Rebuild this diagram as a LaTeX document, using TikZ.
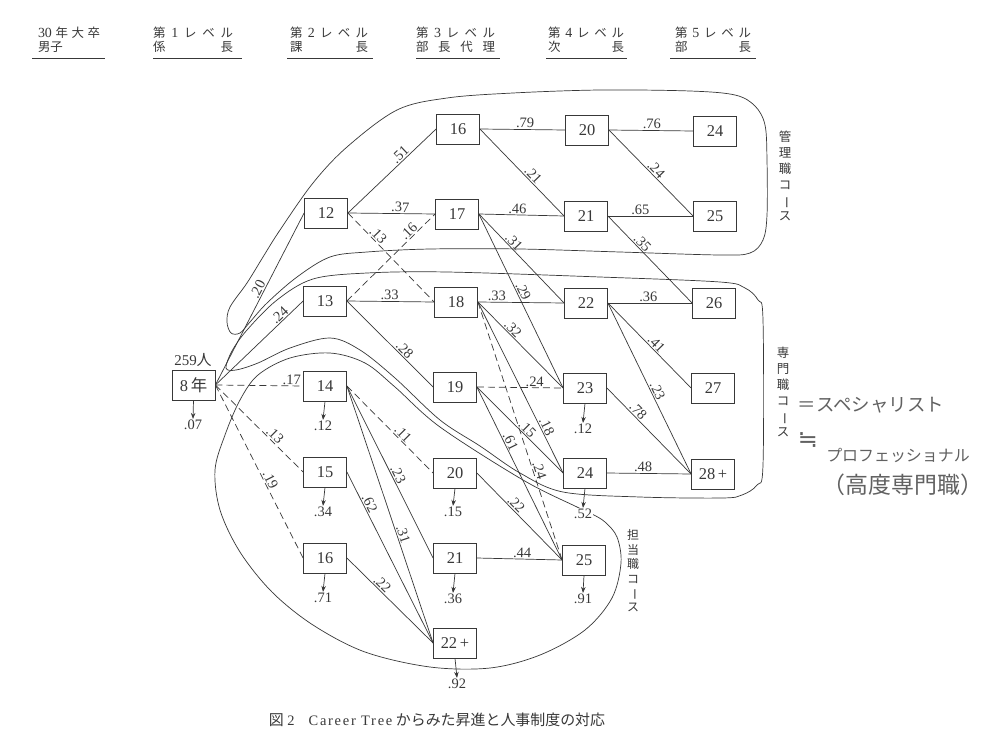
\documentclass[tikz,border=0pt]{standalone}
\usepackage{graphicx}
\usepackage{fontspec}
\setmainfont{Liberation Serif}
\newfontfamily\jp{Noto Sans CJK JP}
\newfontfamily\dv{DejaVu Sans}
\usetikzlibrary{arrows.meta}
\definecolor{ink}{gray}{0.22}
\definecolor{pencil}{gray}{0.38}
\newcommand{\hd}[1]{{\rmfamily\fontsize{14}{13}\selectfont #1}}
\begin{document}
\begin{tikzpicture}[x=1bp,y=-1bp,
  box/.style={draw=ink, line width=0.8bp, minimum width=43bp, minimum height=30bp, inner sep=0pt, text=ink, font=\fontsize{16.5}{16.5}\selectfont},
  lab/.style={sloped, above, inner sep=1bp, text=ink, font=\fontsize{14.5}{14.5}\selectfont},
  ln/.style={draw=ink, line width=0.7bp},
  dln/.style={ln, dash pattern=on 7bp off 4bp},
  drop/.style={draw=ink, line width=0.7bp, -{Stealth[length=6bp,width=4.5bp]}},
  outlab/.style={inner sep=1bp, text=ink, font=\fontsize{14.5}{14.5}\selectfont},
  course/.style={draw=ink, line width=0.7bp},
  hdr/.style={inner sep=0pt, text=ink, font=\jp\fontsize{12.5}{13}\selectfont},
  vlab/.style={inner sep=0pt, text=ink, align=center},
  hand/.style={inner sep=0pt, text=pencil},
]
\fill[white] (0,0) rectangle (996,736);
\useasboundingbox (0,0) rectangle (996,736);

% headers
\node[hdr] (h0a) at (69,33) {\makebox[62bp]{\hd{30}\hfill 年\hfill 大\hfill 卒}};
\node[hdr] (h0b) at (69,47) {\makebox[62bp]{男子\hfill}};
\node[hdr] (h1a) at (193,33) {\makebox[80bp]{第\hfill\hd{1}\hfill レ\hfill ベ\hfill ル}};
\node[hdr] (h1b) at (193,47) {\makebox[80bp]{係\hfill 長}};
\node[hdr] (h2a) at (329,33) {\makebox[78bp]{第\hfill\hd{2}\hfill レ\hfill ベ\hfill ル}};
\node[hdr] (h2b) at (329,47) {\makebox[78bp]{課\hfill 長}};
\node[hdr] (h3a) at (455.5,33) {\makebox[79bp]{第\hfill\hd{3}\hfill レ\hfill ベ\hfill ル}};
\node[hdr] (h3b) at (455.5,47) {\makebox[79bp]{部\hfill 長\hfill 代\hfill 理}};
\node[hdr] (h4a) at (586,33) {\makebox[76bp]{第\hfill\hd{4}\hfill レ\hfill ベ\hfill ル}};
\node[hdr] (h4b) at (586,47) {\makebox[76bp]{次\hfill 長}};
\node[hdr] (h5a) at (713,33) {\makebox[76bp]{第\hfill\hd{5}\hfill レ\hfill ベ\hfill ル}};
\node[hdr] (h5b) at (713,47) {\makebox[76bp]{部\hfill 長}};
\draw[ln] (32,58) -- (105,58);
\draw[ln] (153,58) -- (242,58);
\draw[ln] (287,58) -- (373,58);
\draw[ln] (416,58) -- (500,58);
\draw[ln] (546,58) -- (627,58);
\draw[ln] (670,58) -- (756,58);

% course boundaries
\draw[course] plot[smooth cycle, tension=0.55] coordinates {
 (513,93) (600,90) (690,91) (735,95) (755,106) (765,125) (767,160) (767,215) (763,240) (750,253)
 (720,255) (620,252) (520,249) (430,249) (367,252) (330,257) (297,277) (267,303) (250,322)
 (240,333) (231,333) (227,322) (230,307) (247,283) (263,257) (280,230) (313,183) (347,147)
 (397,110) (447,98)};
\draw[course] plot[smooth cycle, tension=0.55] coordinates {
 (226,368) (232,351) (247,330) (277,300) (313,279) (367,273) (447,272) (600,277) (720,282)
 (745,288) (758,300) (763,320) (763,465) (757,485) (742,495) (722,498) (640,497) (563,492)
 (520,473) (480,446) (440,420) (395,378) (360,350) (330,338) (290,348) (258,363) (236,370)};
\draw[course] plot[smooth cycle, tension=0.55] coordinates {
 (577,507) (523,480) (440,427) (395,387) (365,363) (330,353) (290,358) (258,375) (240,400)
 (225,435) (215,470) (220,510) (240,552) (272,592) (313,625) (365,652) (430,667) (490,668)
 (540,655) (585,630) (612,598) (621,563) (617,537) (605,522) (592,514)};

% nodes
\node[box] (s) at (193.5,385) {8\,{\jp 年}};
\node[outlab, font=\fontsize{15}{15}\selectfont] (pop) at (193,360) {259{\jp 人}};
\node[box] (a12) at (326,213) {12};
\node[box] (a13) at (325,301) {13};
\node[box] (a14) at (325,386) {14};
\node[box] (a15) at (325,472) {15};
\node[box] (a16) at (325,558) {16};
\node[box] (b16) at (458,129) {16};
\node[box] (b17) at (457,214) {17};
\node[box] (b18) at (456,302) {18};
\node[box] (b19) at (455,387) {19};
\node[box] (b20) at (455,473) {20};
\node[box] (b21) at (455,558) {21};
\node[box] (b22) at (455,643) {22\,+};
\node[box] (c20) at (587,130) {20};
\node[box] (c21) at (586,216) {21};
\node[box] (c22) at (586,303) {22};
\node[box] (c23) at (585,388) {23};
\node[box] (c24) at (585,473) {24};
\node[box] (c25) at (584,560) {25};
\node[box] (d24) at (715,131) {24};
\node[box] (d25) at (715,216) {25};
\node[box] (d26) at (714,303) {26};
\node[box] (d27) at (713,388) {27};
\node[box] (d28) at (713,474) {28\,+};

% edges
\draw[ln] (s.east) -- node[lab,pos=.54]{.20} (a12.west);
\draw[ln] (s.east) -- node[lab,pos=.78]{.24} (a13.west);
\draw[dln] (s.east) -- node[lab,pos=.87]{.17} (a14.west);
\draw[dln] (s.east) -- node[lab,pos=.63]{.13} (a15.west);
\draw[dln] (s.east) -- node[lab,pos=.565]{.19} (a16.west);
\draw[ln] (a12.east) -- node[lab,pos=.64]{.51} (b16.west);
\draw[ln] (a12.east) -- node[lab,pos=.6]{.37} (b17.west);
\draw[dln] (a12.east) -- node[lab,pos=.3]{.13} (b18.west);
\draw[dln] (a13.east) -- node[lab,pos=.75]{.16} (b17.west);
\draw[ln] (a13.east) -- node[lab,pos=.49]{.33} (b18.west);
\draw[ln] (a13.east) -- node[lab,pos=.62]{.28} (b19.west);
\draw[dln] (a14.east) -- node[lab,pos=.6]{.11} (b20.west);
\draw[ln] (a14.east) -- node[lab,pos=.53]{.23} (b21.west);
\draw[ln] (a14.east) -- node[lab,pos=.585]{.31} (b22.west);
\draw[ln] (a15.east) -- node[lab,pos=.2]{.62} (b22.west);
\draw[ln] (a16.east) -- node[lab,pos=.36]{.22} (b22.west);
\draw[ln] (b16.east) -- node[lab,pos=.53]{.79} (c20.west);
\draw[ln] (b16.east) -- node[lab,pos=.58]{.21} (c21.west);
\draw[ln] (b17.east) -- node[lab,pos=.45]{.46} (c21.west);
\draw[ln] (b17.east) -- node[lab,pos=.36]{.31} (c22.west);
\draw[ln] (b17.east) -- node[lab,pos=.46]{.29} (c23.west);
\draw[ln] (b18.east) -- node[lab,pos=.22]{.33} (c22.west);
\draw[ln] (b18.east) -- node[lab,pos=.36]{.32} (c23.west);
\draw[ln] (b18.east) -- node[lab,pos=.744]{.18} (c24.west);
\draw[dln] (b18.east) -- node[lab,pos=.66]{.24} (c25.west);
\draw[dln] (b19.east) -- node[lab,pos=.67]{.24} (c23.west);
\draw[ln] (b19.east) -- node[lab,pos=.535]{.15} (c24.west);
\draw[ln] (b19.east) -- node[lab,pos=.33]{.61} (c25.west);
\draw[ln] (b20.east) -- node[lab,pos=.41]{.22} (c25.west);
\draw[ln] (b21.east) -- node[lab,pos=.53]{.44} (c25.west);
\draw[ln] (c20.east) -- node[lab,pos=.51]{.76} (d24.west);
\draw[ln] (c20.east) -- node[lab,pos=.51]{.24} (d25.west);
\draw[ln] (c21.east) -- node[lab,pos=.38]{.65} (d25.west);
\draw[ln] (c21.east) -- node[lab,pos=.357]{.35} (d26.west);
\draw[ln] (c22.east) -- node[lab,pos=.48]{.36} (d26.west);
\draw[ln] (c22.east) -- node[lab,pos=.53]{.41} (d27.west);
\draw[ln] (c22.east) -- node[lab,pos=.53]{.23} (d28.west);
\draw[ln] (c23.east) -- node[lab,pos=.32]{.78} (d28.west);
\draw[ln] (c24.east) -- node[lab,pos=.43]{.48} (d28.west);

% drop-outs
\node[outlab] (so) at (193,425) {.07};
\node[outlab] (a14o) at (323,426) {.12};
\node[outlab] (a15o) at (323,512) {.34};
\node[outlab] (a16o) at (323,598) {.71};
\node[outlab] (b20o) at (453,512) {.15};
\node[outlab] (b21o) at (453,599) {.36};
\node[outlab] (b22o) at (457,684) {.92};
\node[outlab] (c23o) at (583,429) {.12};
\node[outlab, fill=white] (c24o) at (583,514) {.52};
\node[outlab] (c25o) at (583,599) {.91};
\draw[drop] (s.south) -- (so.north);
\draw[drop] (a14.south) -- (a14o.north);
\draw[drop] (a15.south) -- (a15o.north);
\draw[drop] (a16.south) -- (a16o.north);
\draw[drop] (b20.south) -- (b20o.north);
\draw[drop] (b21.south) -- (b21o.north);
\draw[drop] (b22.south) -- (b22o.north);
\draw[drop] (c23.south) -- (c23o.north);
\draw[drop] (c24.south) -- (c24o.north);
\draw[drop] (c25.south) -- (c25o.north);

% course labels
\node[vlab, font=\jp\fontsize{12.5}{16}\selectfont] (k1) at (785,176) {管\\理\\職\\コ\\\rotatebox[origin=c]{-90}{ー}\\ス};
\node[vlab, font=\jp\fontsize{12.5}{16}\selectfont] (k2) at (783,392) {専\\門\\職\\コ\\\rotatebox[origin=c]{-90}{ー}\\ス};
\node[vlab, font=\jp\fontsize{12}{14.5}\selectfont] (k3) at (633,571) {担\\当\\職\\コ\\\rotatebox[origin=c]{-90}{ー}\\ス};

% handwritten notes
\node[hand, font=\jp\fontsize{18.5}{20}\selectfont] (hw1) at (871,405) {＝スペシャリスト};
\node[hand, font=\dv\fontsize{24}{24}\selectfont] (hw2) at (808,440) {≒};
\node[hand, font=\jp\fontsize{16}{16}\selectfont] (hw3) at (898,455) {プロフェッショナル};
\node[hand, font=\jp\fontsize{23}{23}\selectfont] (hw4) at (903,485) {（高度専門職）};

% caption
\node[inner sep=0pt, text=ink, font=\fontsize{14.5}{14.5}\selectfont] (cap) at (437,720)
 {{\jp\fontsize{15}{15}\selectfont 図}~2\hspace{14bp}{\addfontfeatures{LetterSpace=12}Career Tree}~{\jp\fontsize{15}{15}\selectfont からみた昇進と人事制度の対応}};
\end{tikzpicture}
\end{document}
